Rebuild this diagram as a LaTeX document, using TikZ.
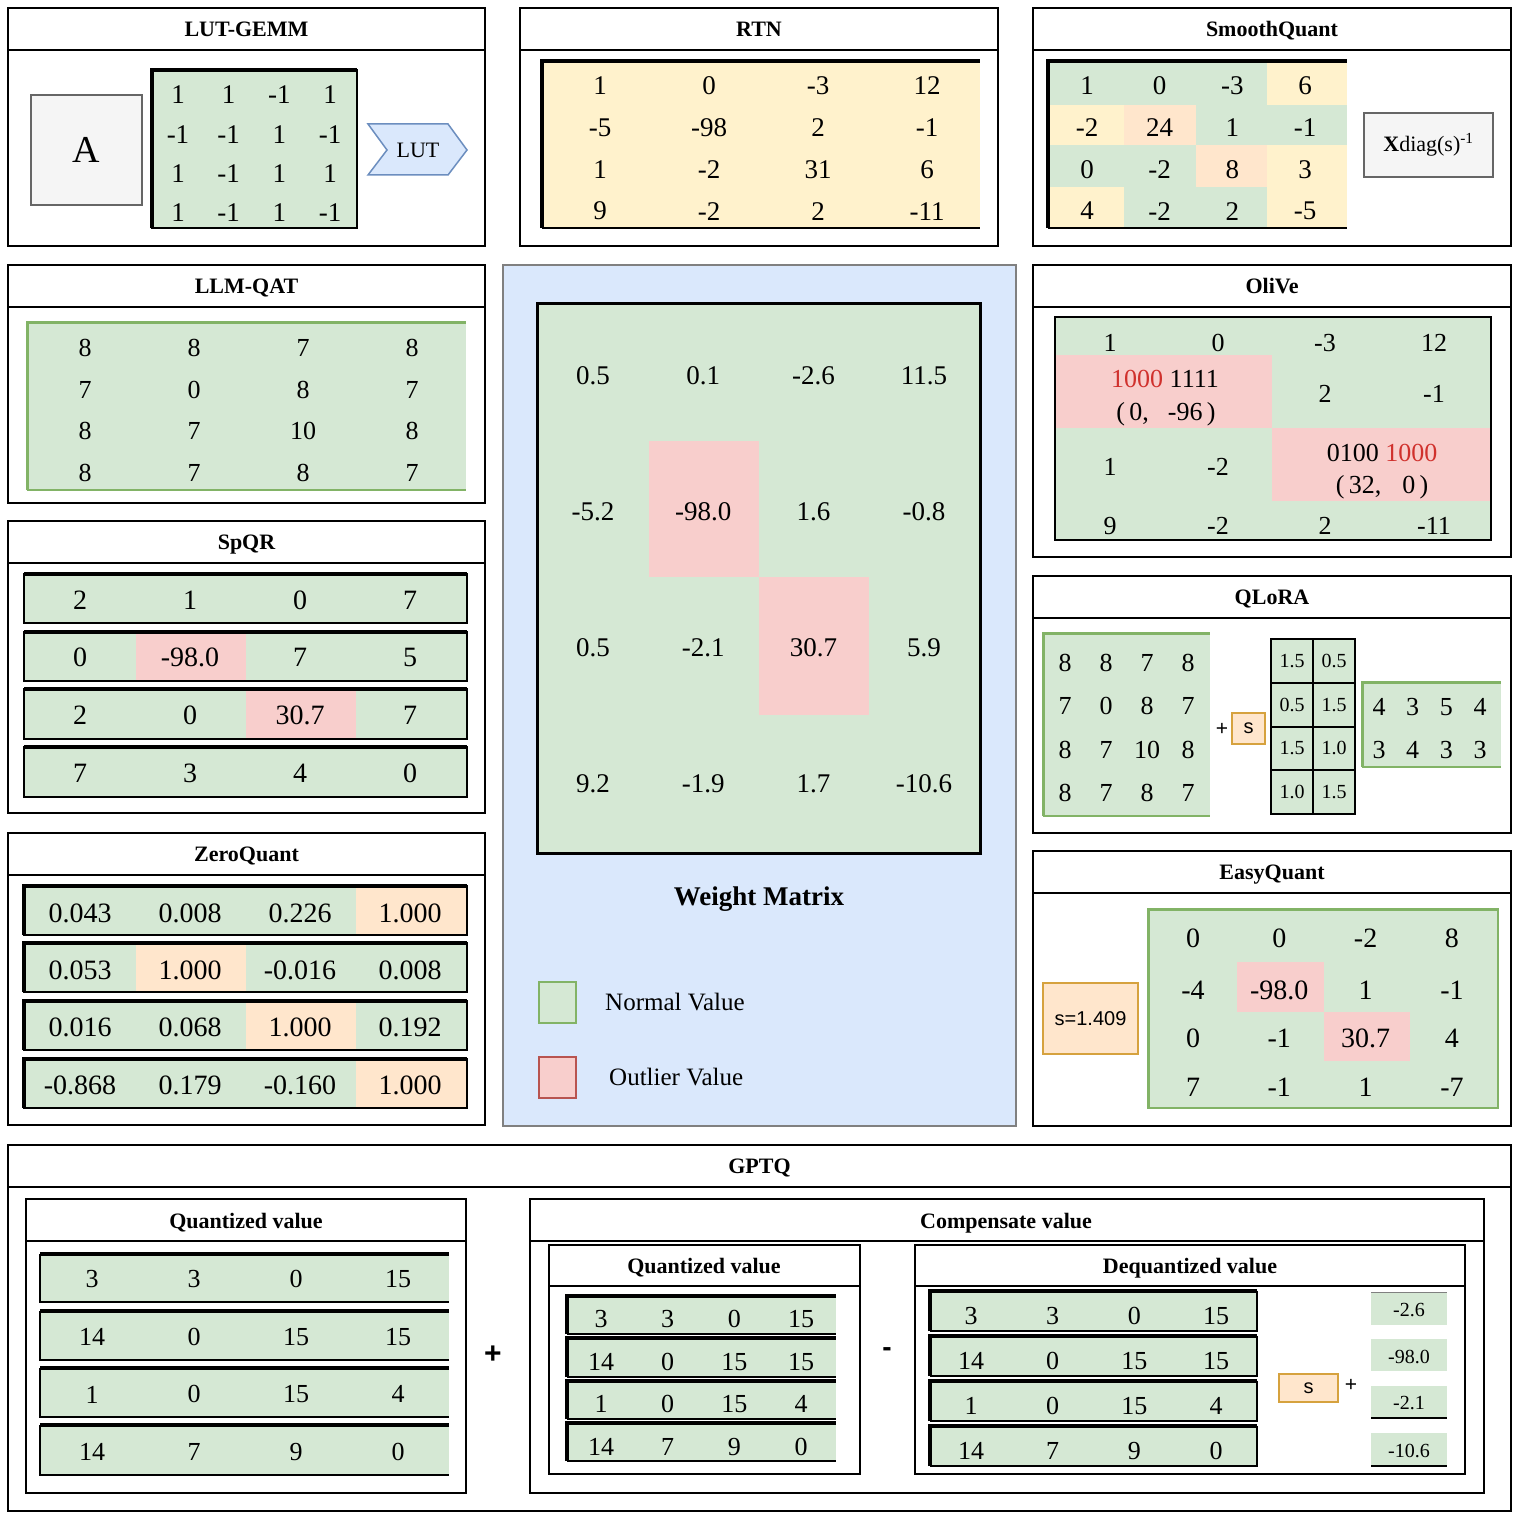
\documentclass[tikz,border=0pt]{standalone}
\usepackage{fontspec}
\setmainfont{Liberation Serif}
\newfontfamily\sansf{Liberation Sans}
\definecolor{gfill}{HTML}{D5E8D4}
\definecolor{gline}{HTML}{82B366}
\definecolor{rfill}{HTML}{F8CECC}
\definecolor{rline}{HTML}{B85450}
\definecolor{yfill}{HTML}{FFF2CC}
\definecolor{ofill}{HTML}{FFE6CC}
\definecolor{oline}{HTML}{D6A23E}
\definecolor{bfill}{HTML}{DAE8FC}
\definecolor{bline}{HTML}{6C8EBF}
\definecolor{cline}{HTML}{808080}
\definecolor{grfill}{HTML}{F5F5F5}
\definecolor{grline}{HTML}{666666}
\definecolor{redt}{HTML}{D0312D}
\newcommand\fsz[1]{\fontsize{#1}{#1}\selectfont}
\newcommand\numgrid[7]{%
  \foreach \row [count=\r] in {#7} {%
    \foreach \v [count=\c] in \row {%
      \node[#6] (#1-\r-\c) at ({#2+(\c-1)*#3},{#4+(\r-1)*#5}) {\v};
    }%
  }%
}
\newcommand\panel[7]{%
  \draw[panelline] (#2,#3) rectangle (#4,#5);
  \draw[panelline] (#2,#6) -- (#4,#6);
  \node[ttl] (#1) at ({(#2+#4)/2},{(#3+#6)/2+7.5}) {#7};
}
\tikzset{
  panelline/.style={line width=2.8pt},
  subline/.style={line width=2.5pt},
  ttl/.style={font=\bfseries\fsz{22}, inner sep=0pt, anchor=base},
  num/.style={font=\fsz{27}, inner sep=0pt},
  numb/.style={font=\fsz{28}, inner sep=0pt},
  nums/.style={font=\fsz{26}, inner sep=0pt},
  numt/.style={font=\fsz{20}, inner sep=0pt},
  graybox/.style={draw=grline, fill=grfill, line width=2pt, inner sep=0pt},
  orbox/.style={draw=oline, fill=ofill, line width=2pt, inner sep=0pt, font=\sansf\fsz{20}},
  thick3/.style={line width=3.5pt},
  thin15/.style={line width=1.5pt},
}
\begin{document}
\begin{tikzpicture}[x=1pt,y=-1pt]
\useasboundingbox (0,0) rectangle (1520,1522);
\fill[white] (0,0) rectangle (1520,1522);

% ================= LUT-GEMM =================
\panel{lutT}{8}{8}{485}{246}{50}{LUT-GEMM}
\node[graybox, minimum width=111pt, minimum height=110pt, font=\fsz{38}] (lutA) at (86.5,150) {A};
\fill[gfill] (152,70) rectangle (357,228);
\draw[thin15] (152,70) rectangle (357,228);
\draw[thick3] (152,228) -- (152,70) -- (357,70);
\numgrid{lut}{178}{50.7}{95}{39.2}{num}{{1,1,-1,1},{-1,-1,1,-1},{1,-1,1,1},{1,-1,1,-1}}
\draw[draw=bline, fill=bfill, line width=1.5pt] (368,124) -- (448,124) -- (467,150) -- (448,175) -- (368,175) -- (387,150) -- cycle;
\node[font=\fsz{22}, inner sep=0pt] (lutL) at (418,150) {LUT};

% ================= RTN =================
\panel{rtnT}{520}{8}{998}{246}{50}{RTN}
\fill[yfill] (542,61) rectangle (980,228);
\draw[thick3] (542,228) -- (542,61) -- (980,61);
\draw[thin15] (542,228) -- (980,228);
\numgrid{rtn}{600}{109}{86}{41.7}{num}{{1,0,-3,12},{-5,-98,2,-1},{1,-2,31,6},{9,-2,2,-11}}

% ================= SmoothQuant =================
\panel{sqT}{1033}{8}{1511}{246}{50}{SmoothQuant}
\fill[gfill] (1048,61) rectangle (1347,228);
\fill[yfill] (1267,61) rectangle (1347,105);
\fill[yfill] (1048,105) rectangle (1124,145);
\fill[ofill] (1124,105) rectangle (1196,145);
\fill[ofill] (1196,145) rectangle (1267,187);
\fill[yfill] (1267,145) rectangle (1347,187);
\fill[yfill] (1048,187) rectangle (1124,228);
\fill[yfill] (1267,187) rectangle (1347,228);
\draw[thick3] (1048,228) -- (1048,61) -- (1347,61);
\draw[thin15] (1048,228) -- (1347,228);
\numgrid{sq}{1087}{72.7}{86}{41.7}{num}{{1,0,-3,6},{-2,24,1,-1},{0,-2,8,3},{4,-2,2,-5}}
\node[graybox, minimum width=129pt, minimum height=64pt, font=\fsz{22}] (sqX) at (1428.5,145) {\textbf{X}diag(s)\textsuperscript{-1}};

% ================= LLM-QAT =================
\panel{qatT}{8}{265}{485}{503}{307}{LLM-QAT}
\fill[gfill] (27,322) rectangle (466,490);
\draw[gline, line width=3pt] (27,490) -- (27,322) -- (466,322);
\draw[gline, thin15] (27,490) -- (466,490);
\numgrid{qat}{85}{109}{348}{41.7}{nums}{{8,8,7,8},{7,0,8,7},{8,7,10,8},{8,7,8,7}}

% ================= SpQR =================
\panel{spT}{8}{521}{485}{813}{563}{SpQR}
\foreach \ya/\yb in {574/623,632/681,689/739,747/797} \fill[gfill] (24,\ya) rectangle (467,\yb);
\fill[rfill] (136,632) rectangle (246,681);
\fill[rfill] (246,689) rectangle (356,739);
\foreach \ya/\yb in {574/623,632/681,689/739,747/797} {
  \draw[line width=2.6pt] (24,\ya) rectangle (467,\yb);
  \draw[line width=3.2pt] (24,\ya) -- (467,\ya);
}
\numgrid{sp}{80}{110}{600}{57.7}{numb}{{2,1,0,7},{0,-98.0,7,5},{2,0,30.7,7},{7,3,4,0}}

% ================= ZeroQuant =================
\panel{zqT}{8}{833}{485}{1125}{875}{ZeroQuant}
\foreach \ya/\yb in {886/935,943/992,1001/1050,1059/1108} \fill[gfill] (24,\ya) rectangle (467,\yb);
\fill[ofill] (356,886) rectangle (467,935);
\fill[ofill] (136,943) rectangle (246,992);
\fill[ofill] (246,1001) rectangle (356,1050);
\fill[ofill] (356,1059) rectangle (467,1108);
\foreach \ya/\yb in {886/935,943/992,1001/1050,1059/1108} {
  \draw[line width=2pt] (24,\ya) rectangle (467,\yb);
  \draw[line width=3.2pt] (467,\ya) -- (24,\ya) -- (24,\yb);
}
\numgrid{zq}{80}{110}{913}{57.3}{numb}{{0.043,0.008,0.226,1.000},{0.053,1.000,-0.016,0.008},{0.016,0.068,1.000,0.192},{-0.868,0.179,-0.160,1.000}}

% ================= Centre : Weight Matrix =================
\draw[draw=cline, fill=bfill, line width=2pt] (503,265) rectangle (1016,1126);
\fill[gfill] (537,303) rectangle (980,853);
\fill[rfill] (649,441) rectangle (759,577);
\fill[rfill] (759,577) rectangle (869,715);
\draw[line width=3pt] (537,303) rectangle (980,853);
\numgrid{wm}{593}{110.3}{376}{136}{num}{{0.5,0.1,-2.6,11.5},{-5.2,-98.0,1.6,-0.8},{0.5,-2.1,30.7,5.9},{9.2,-1.9,1.7,-10.6}}
\node[font=\bfseries\fsz{27}, inner sep=0pt, anchor=base] (wmT) at (759,905) {Weight Matrix};
\draw[draw=gline, fill=gfill, line width=2pt] (539,982) rectangle (576,1023);
\node[font=\fsz{25}, inner sep=0pt, anchor=base west] (wmN) at (605,1010) {Normal Value};
\draw[draw=rline, fill=rfill, line width=2pt] (539,1057) rectangle (576,1098);
\node[font=\fsz{25}, inner sep=0pt, anchor=base west] (wmO) at (609,1085) {Outlier Value};

% ================= OliVe =================
\panel{olT}{1033}{265}{1511}{557}{307}{OliVe}
\fill[gfill] (1055,317) rectangle (1491,540);
\fill[rfill] (1055,355) rectangle (1272,428);
\fill[rfill] (1272,428) rectangle (1491,501);
\draw[line width=2.6pt] (1055,317) rectangle (1491,540);
\foreach \v/\x [count=\c] in {1/1110,0/1218,-3/1325,12/1434}
  \node[nums] (ol-1-\c) at (\x,343) {\v};
\node[nums] (ol-a) at (1165,379) {\textcolor{redt}{1000} 1111};
\node[nums] (ol-b) at (1166,414) {(\,0,\hspace{19pt}-96\,)};
\node[nums] (ol-2-3) at (1325,394) {2};
\node[nums] (ol-2-4) at (1434,394) {-1};
\node[nums] (ol-3-1) at (1110,467) {1};
\node[nums] (ol-3-2) at (1218,467) {-2};
\node[nums] (ol-c) at (1382,453) {0100 \textcolor{redt}{1000}};
\node[nums] (ol-d) at (1382,487) {(\,32,\hspace{21pt}0\,)};
\foreach \v/\x [count=\c] in {9/1110,-2/1218,2/1325,-11/1434}
  \node[nums] (ol-4-\c) at (\x,526) {\v};

% ================= QLoRA =================
\panel{qlT}{1033}{576}{1511}{833}{618}{QLoRA}
\fill[gfill] (1043,633) rectangle (1210,816);
\draw[gline, line width=3pt] (1043,816) -- (1043,633) -- (1210,633);
\draw[gline, thin15] (1043,816) -- (1210,816);
\numgrid{qla}{1065}{41}{663}{43.4}{nums}{{8,8,7,8},{7,0,8,7},{8,7,10,8},{8,7,8,7}}
\node[font=\sansf\fsz{21}, inner sep=0pt] (qlP) at (1222,729) {+};
\node[orbox, minimum width=33pt, minimum height=31pt] (qlS) at (1248.5,728.5) {s};
\foreach \ya/\yb [count=\r] in {639/683,683/727,727/770,770/814} {
  \draw[fill=gfill, line width=2pt] (1271,\ya) rectangle (1313,\yb);
  \draw[fill=gfill, line width=2pt] (1313,\ya) rectangle (1355,\yb);
}
\numgrid{qlb}{1292}{42}{661}{43.7}{numt}{{1.5,0.5},{0.5,1.5},{1.5,1.0},{1.0,1.5}}
\fill[gfill] (1362,682) rectangle (1501,767);
\draw[gline, line width=3pt] (1362,767) -- (1362,682) -- (1501,682);
\draw[gline, thin15] (1362,767) -- (1501,767);
\numgrid{qlc}{1379}{33.7}{707}{43}{nums}{{4,3,5,4},{3,4,3,3}}

% ================= EasyQuant =================
\panel{eqT}{1033}{851}{1511}{1126}{893}{EasyQuant}
\node[orbox, minimum width=95pt, minimum height=71pt] (eqS) at (1090.5,1018.5) {s=1.409};
\fill[gfill] (1148,909) rectangle (1498,1108);
\fill[rfill] (1237,962) rectangle (1324,1012);
\fill[rfill] (1324,1012) rectangle (1410,1061);
\draw[gline, line width=2pt] (1148,909) rectangle (1498,1108);
\draw[gline, line width=3pt] (1148,1108) -- (1148,909) -- (1498,909);
\foreach \row/\yy [count=\r] in {{0,0,-2,8}/938,{-4,-98.0,1,-1}/990,{0,-1,30.7,4}/1038,{7,-1,1,-7}/1087} {
  \foreach \v [count=\c] in \row
    \node[numb] (eq-\r-\c) at ({1193+(\c-1)*86.3},\yy) {\v};
}

% ================= GPTQ =================
\panel{gpT}{8}{1145}{1511}{1511}{1187}{GPTQ}
% left quantized value
\draw[subline] (26,1199) rectangle (466,1493);
\draw[subline] (26,1241) -- (466,1241);
\node[ttl] (gqT) at (246,1228.5) {Quantized value};
\foreach \ya/\yb in {1254/1302,1311/1360,1368/1417,1425/1475} {
  \fill[gfill] (40,\ya) rectangle (449,\yb);
  \draw[thin15] (40,\ya) -- (40,\yb) -- (449,\yb);
  \draw[thick3] (40,\ya) -- (449,\ya);
}
\numgrid{gq}{92}{102}{1279}{57.7}{nums}{{3,3,0,15},{14,0,15,15},{1,0,15,4},{14,7,9,0}}
\node[font=\sansf\bfseries\fsz{30}, inner sep=0pt] (gpPlus) at (493,1355) {+};
% compensate
\draw[subline] (530,1199) rectangle (1484,1493);
\draw[subline] (530,1241) -- (1484,1241);
\node[ttl] (gcT) at (1006,1228.5) {Compensate value};
\draw[subline] (549,1245) rectangle (860,1474);
\draw[subline] (549,1286) -- (860,1286);
\node[ttl] (gcqT) at (704,1273) {Quantized value};
\foreach \ya/\yb in {1296/1334,1338/1377,1381/1419,1423/1461} {
  \fill[gfill] (567,\ya) rectangle (836,\yb);
  \draw[thin15] (567,\yb) -- (836,\yb);
  \draw[thick3] (567,\yb) -- (567,\ya) -- (836,\ya);
}
\numgrid{gcq}{601}{66.7}{1319}{42.7}{nums}{{3,3,0,15},{14,0,15,15},{1,0,15,4},{14,7,9,0}}
\node[font=\sansf\bfseries\fsz{28}, inner sep=0pt] (gpMinus) at (887,1352) {-};
\draw[subline] (915,1245) rectangle (1465,1474);
\draw[subline] (915,1286) -- (1465,1286);
\node[ttl] (gdT) at (1190,1273) {Dequantized value};
\foreach \ya/\yb in {1291/1331,1336/1376,1381/1421,1426/1466} {
  \fill[gfill] (930,\ya) rectangle (1257,\yb);
  \draw[thin15] (930,\yb) -- (1257,\yb) -- (1257,\ya);
  \draw[thick3] (930,\yb) -- (930,\ya) -- (1257,\ya);
}
\numgrid{gd}{971}{81.7}{1316}{45}{nums}{{3,3,0,15},{14,0,15,15},{1,0,15,4},{14,7,9,0}}
\node[orbox, minimum width=59pt, minimum height=28pt] (gdS) at (1308.5,1388) {s};
\node[font=\sansf\fsz{21}, inner sep=0pt] (gdP) at (1351,1385) {+};
\foreach \ya/\yb/\v/\n in {1292/1325/-2.6/1,1339/1371/-98.0/2,1386/1418/-2.1/3,1433/1466/-10.6/4} {
  \fill[gfill] (1371,\ya) rectangle (1447,\yb);
  \node[numt] (gdc-\n) at (1409,{(\ya+\yb)/2+1.5}) {\v};
}
\draw[line width=0.6pt, gray] (1371,1292) -- (1447,1292);
\draw[line width=1.5pt] (1371,1418) -- (1447,1418);
\draw[line width=1.5pt] (1371,1466) -- (1447,1466);
\end{tikzpicture}
\end{document}
